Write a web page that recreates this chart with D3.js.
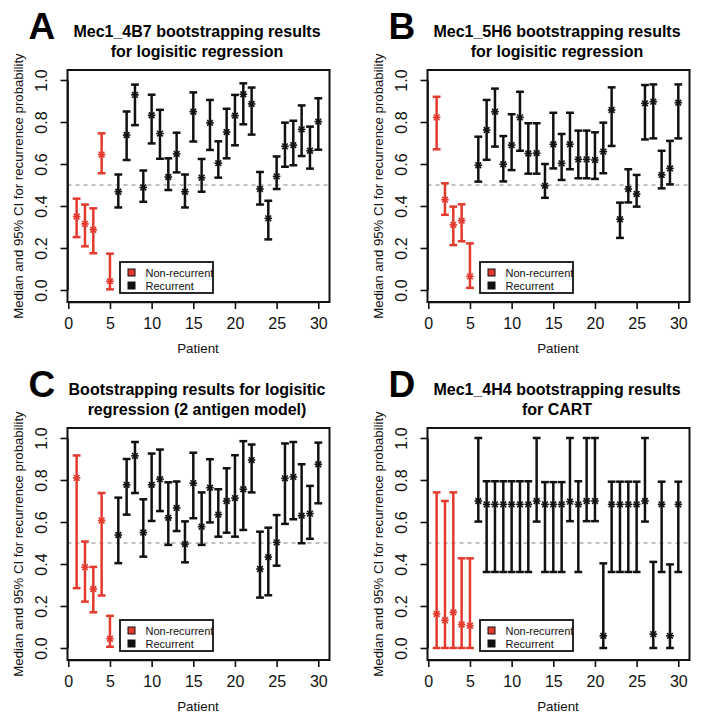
<!DOCTYPE html>
<html>
<head>
<meta charset="utf-8">
<script src="https://cdn.jsdelivr.net/npm/d3@7"></script>
<style>
  html, body { margin: 0; padding: 0; background: #fff; }
  svg { display: block; font-family: "Liberation Sans", Arial, Helvetica, sans-serif; }
</style>
</head>
<body>
<svg id="chart" width="701" height="719"></svg>
<script>
// ---------------- data ----------------
const patients = [1,2,3,4,5,6,7,8,9,10,11,12,13,14,15,16,17,18,19,20,21,22,23,24,25,26,27,28,29,30];
const nonRecurrentCount = 5; // patients 1-5 are non-recurrent
const xTicks = [0,5,10,15,20,25,30];
const yTicks = [0,0.2,0.4,0.6,0.8,1.0];
const yTickLabels = ["0.0","0.2","0.4","0.6","0.8","1.0"];
const legendLabels = ["Non-recurrent","Recurrent"];

// Panel A: Mec1_4B7, logistic regression
const aMed = [0.350,0.315,0.287,0.645,0.042,0.468,0.738,0.929,0.488,0.832,0.745,0.538,0.648,0.468,0.849,0.535,0.796,0.604,0.752,0.830,0.932,0.886,0.481,0.341,0.541,0.684,0.690,0.765,0.663,0.802];
const aLo  = [0.252,0.208,0.175,0.556,0.003,0.393,0.619,0.785,0.420,0.698,0.625,0.476,0.560,0.393,0.707,0.468,0.667,0.535,0.627,0.689,0.789,0.740,0.407,0.241,0.481,0.587,0.594,0.638,0.578,0.668];
const aHi  = [0.435,0.407,0.389,0.746,0.173,0.550,0.850,0.978,0.569,0.930,0.858,0.627,0.749,0.550,0.941,0.624,0.905,0.708,0.863,0.929,0.984,0.964,0.562,0.425,0.636,0.797,0.806,0.879,0.778,0.913];

// Panel B: Mec1_5H6, logistic regression
const bMed = [0.822,0.430,0.310,0.330,0.065,0.594,0.762,0.849,0.599,0.690,0.822,0.650,0.652,0.496,0.694,0.603,0.694,0.622,0.622,0.619,0.659,0.857,0.337,0.481,0.457,0.889,0.897,0.548,0.579,0.892];
const bLo  = [0.670,0.358,0.214,0.232,0.010,0.516,0.620,0.683,0.517,0.571,0.663,0.554,0.554,0.439,0.579,0.524,0.575,0.532,0.532,0.529,0.556,0.686,0.248,0.417,0.397,0.717,0.722,0.484,0.503,0.722];
const bHi  = [0.920,0.508,0.397,0.408,0.222,0.730,0.905,0.959,0.733,0.837,0.944,0.794,0.794,0.600,0.844,0.743,0.844,0.759,0.759,0.751,0.797,0.965,0.416,0.575,0.548,0.976,0.979,0.663,0.710,0.979];

// Panel C: 2 antigen model, logistic regression
const cMed = [0.810,0.385,0.281,0.607,0.044,0.538,0.777,0.915,0.550,0.777,0.804,0.620,0.667,0.495,0.785,0.578,0.763,0.635,0.700,0.714,0.756,0.895,0.376,0.433,0.503,0.808,0.815,0.630,0.640,0.875];
const cLo  = [0.285,0.221,0.170,0.250,0.006,0.404,0.635,0.738,0.435,0.605,0.652,0.491,0.557,0.408,0.618,0.491,0.598,0.530,0.549,0.530,0.562,0.741,0.240,0.251,0.392,0.591,0.613,0.499,0.520,0.689];
const cHi  = [0.917,0.507,0.386,0.738,0.153,0.716,0.900,0.981,0.708,0.926,0.945,0.789,0.793,0.603,0.930,0.741,0.899,0.756,0.856,0.918,0.985,0.969,0.554,0.573,0.633,0.974,0.981,0.875,0.772,0.978];

// Panel D: Mec1_4H4, CART
const dMed = [0.162,0.132,0.170,0.112,0.106,0.700,0.684,0.684,0.684,0.684,0.684,0.684,0.700,0.684,0.684,0.684,0.697,0.684,0.700,0.700,0.058,0.684,0.684,0.684,0.684,0.700,0.066,0.684,0.058,0.684];
const dLo  = [0,0,0,0,0,0.602,0.362,0.362,0.362,0.362,0.362,0.362,0.602,0.362,0.362,0.362,0.604,0.362,0.604,0.604,0,0.362,0.362,0.362,0.362,0.602,0,0.362,0,0.362];
const dHi  = [0.741,0.700,0.741,0.427,0.427,1.000,0.794,0.794,0.794,0.794,0.794,0.794,1.000,0.790,0.790,0.790,1.000,0.794,1.000,1.000,0.403,0.792,0.792,0.792,0.792,1.000,0.410,0.792,0.398,0.792];

const panels = [
  { letter: "A", title: ["Mec1_4B7 bootstrapping results", "for logisitic regression"], med: aMed, lo: aLo, hi: aHi, dx: 0, dy: 0 },
  { letter: "B", title: ["Mec1_5H6 bootstrapping results", "for logisitic regression"], med: bMed, lo: bLo, hi: bHi, dx: 360, dy: 0 },
  { letter: "C", title: ["Bootstrapping results for logisitic", "regression (2 antigen model)"], med: cMed, lo: cLo, hi: cHi, dx: 0, dy: 358 },
  { letter: "D", title: ["Mec1_4H4 bootstrapping results", "for CART"], med: dMed, lo: dLo, hi: dHi, dx: 360, dy: 358 }
];

// ---------------- drawing ----------------
const RED = "#e43a2e", BLK = "#111";
const svg = d3.select("#chart");
const box = { left: 67.5, right: 329.5, top: 70, bottom: 302 };
const x = d3.scaleLinear().domain([0, 30]).range([68.3, 318.3]);
const y = d3.scaleLinear().domain([0, 1]).range([290, 80]);
const capW = 3.9, starR = 3.8, lw = 2.5;

panels.forEach(p => {
  const g = svg.append("g").attr("transform", `translate(${p.dx},${p.dy})`);

  // panel letter
  g.append("text").attr("x", 28.5).attr("y", 38.5)
    .attr("font-size", 37).attr("font-weight", "bold").text(p.letter);
  // title
  p.title.forEach((t, i) => {
    g.append("text").attr("x", 197).attr("y", 37 + i * 19.5)
      .attr("text-anchor", "middle").attr("font-size", 16).attr("font-weight", "bold")
      .text(t);
  });

  // dashed reference line
  g.append("line").attr("x1", box.left).attr("x2", box.right)
    .attr("y1", y(0.5)).attr("y2", y(0.5))
    .attr("stroke", "#aaa").attr("stroke-width", 1.3).attr("stroke-dasharray", "4,4");

  // error bars
  const data = patients.map((pt, i) => ({ pt, med: p.med[i], lo: p.lo[i], hi: p.hi[i], col: i < nonRecurrentCount ? RED : BLK }));
  const bars = g.append("g").selectAll("g").data(data).join("g")
    .attr("stroke", d => d.col).attr("stroke-width", lw).attr("fill", "none");
  bars.append("line").attr("x1", d => x(d.pt)).attr("x2", d => x(d.pt))
    .attr("y1", d => y(d.lo)).attr("y2", d => y(d.hi));
  bars.append("line").attr("x1", d => x(d.pt) - capW).attr("x2", d => x(d.pt) + capW)
    .attr("y1", d => y(d.lo)).attr("y2", d => y(d.lo));
  bars.append("line").attr("x1", d => x(d.pt) - capW).attr("x2", d => x(d.pt) + capW)
    .attr("y1", d => y(d.hi)).attr("y2", d => y(d.hi));
  // median asterisk (pch 8)
  const star = bars.append("g").attr("stroke-width", 1.6);
  star.append("line").attr("x1", d => x(d.pt) - starR).attr("x2", d => x(d.pt) + starR)
    .attr("y1", d => y(d.med)).attr("y2", d => y(d.med));
  star.append("line").attr("x1", d => x(d.pt) - starR * 0.75).attr("x2", d => x(d.pt) + starR * 0.75)
    .attr("y1", d => y(d.med) - starR * 0.75).attr("y2", d => y(d.med) + starR * 0.75);
  star.append("line").attr("x1", d => x(d.pt) - starR * 0.75).attr("x2", d => x(d.pt) + starR * 0.75)
    .attr("y1", d => y(d.med) + starR * 0.75).attr("y2", d => y(d.med) - starR * 0.75);

  // box
  g.append("rect").attr("x", box.left).attr("y", box.top)
    .attr("width", box.right - box.left).attr("height", box.bottom - box.top)
    .attr("fill", "none").attr("stroke", BLK).attr("stroke-width", 2);

  // x axis
  const xa = g.append("g").attr("transform", `translate(0,${box.bottom})`)
    .call(d3.axisBottom(x).tickValues(xTicks).tickSize(7).tickSizeOuter(0).tickFormat(d3.format("d")));
  xa.select(".domain").attr("stroke", BLK).attr("stroke-width", 1.6);
  xa.selectAll(".tick line").attr("stroke", BLK).attr("stroke-width", 1.6);
  xa.selectAll(".tick text").attr("y", 27).attr("dy", 0).attr("font-size", 16)
    .attr("font-family", "Liberation Sans, Arial, sans-serif").attr("fill", BLK);

  // y axis
  const ya = g.append("g").attr("transform", `translate(${box.left},0)`)
    .call(d3.axisLeft(y).tickValues(yTicks).tickSize(7).tickSizeOuter(0).tickFormat((d, i) => yTickLabels[i]));
  ya.select(".domain").attr("stroke", BLK).attr("stroke-width", 1.6);
  ya.selectAll(".tick line").attr("stroke", BLK).attr("stroke-width", 1.6);
  ya.selectAll(".tick text").attr("transform", "rotate(-90)")
    .attr("x", 0).attr("y", -21).attr("dy", 0).attr("text-anchor", "middle")
    .attr("font-size", 16).attr("font-family", "Liberation Sans, Arial, sans-serif").attr("fill", BLK);

  // axis titles
  g.append("text").attr("x", 198).attr("y", 352.5).attr("text-anchor", "middle")
    .attr("font-size", 13.4).attr("fill", BLK).text("Patient");
  g.append("text").attr("transform", `translate(22.5,${(box.top + box.bottom) / 2}) rotate(-90)`)
    .attr("text-anchor", "middle").attr("font-size", 13.2).attr("fill", BLK)
    .text("Median and 95% CI for recurrence probability");

  // legend
  const lg = g.append("g");
  lg.append("rect").attr("x", 120).attr("y", 262).attr("width", 93).attr("height", 31)
    .attr("fill", "#fff").attr("stroke", BLK).attr("stroke-width", 1.8);
  const legendCols = [RED, BLK];
  legendLabels.forEach((lab, i) => {
    lg.append("rect").attr("x", 128).attr("y", 269 + i * 13).attr("width", 7).attr("height", 7)
      .attr("fill", legendCols[i]).attr("stroke", BLK).attr("stroke-width", 1);
    lg.append("text").attr("x", 145.5).attr("y", 277 + i * 13)
      .attr("font-size", 11).attr("fill", BLK).text(lab);
  });
});
</script>
</body>
</html>
